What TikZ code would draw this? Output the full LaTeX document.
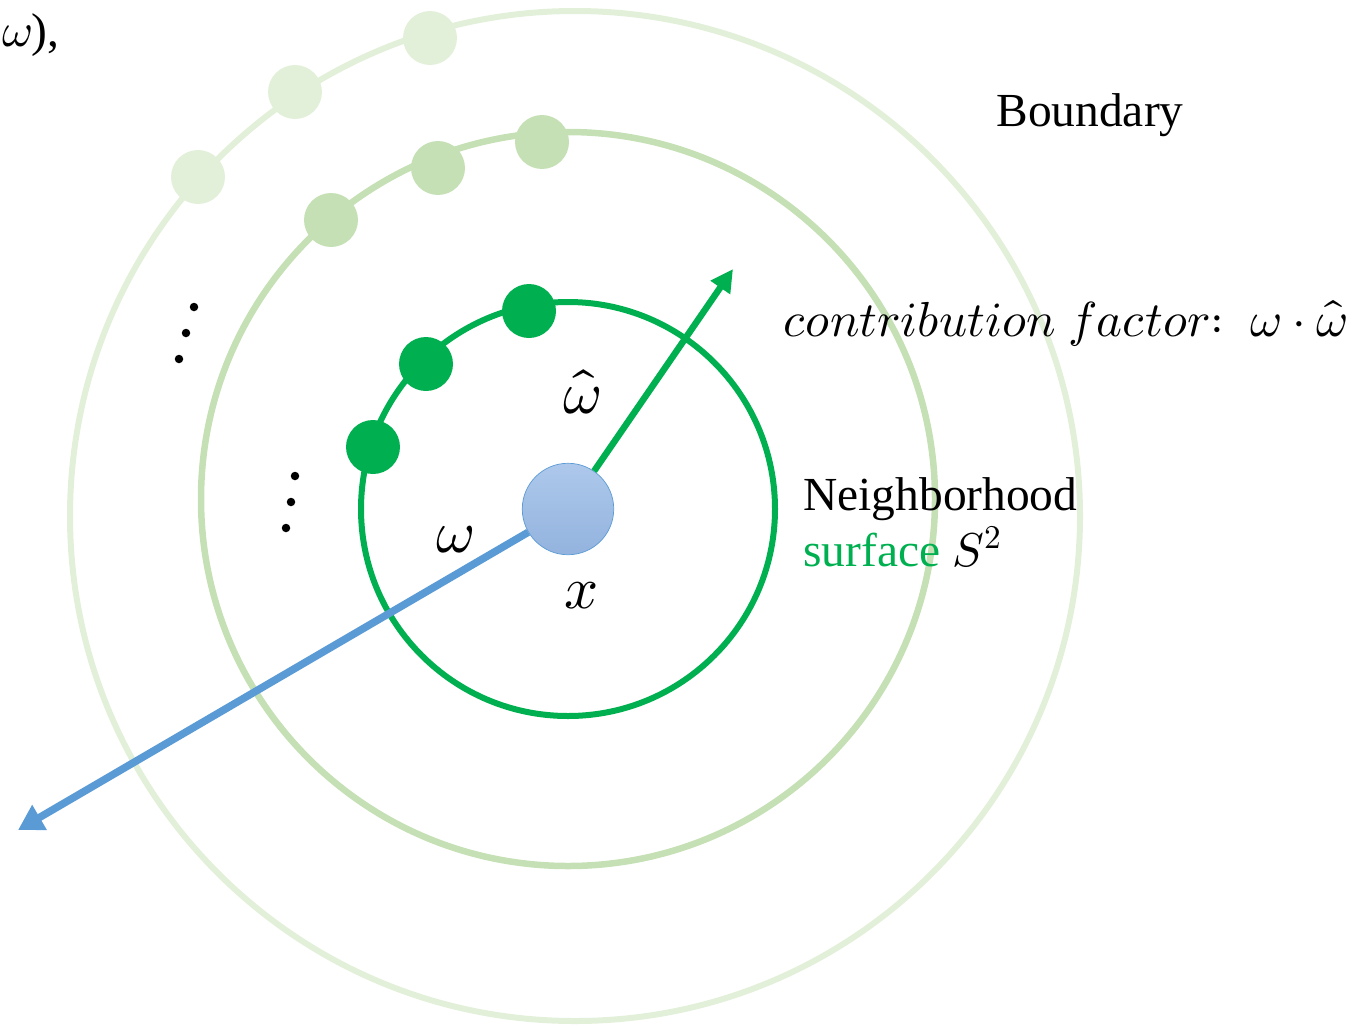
\documentclass[tikz,border=0pt]{standalone}
\usepackage{fontspec}
\usepackage{unicode-math}
\setmainfont{Liberation Serif}
\setmathfont{Latin Modern Math}
\usetikzlibrary{arrows.meta}
\definecolor{verde}{HTML}{00B050}
\definecolor{verdemedio}{HTML}{C5E0B4}
\definecolor{verdeclaro}{HTML}{E2F0D9}
\definecolor{azul}{HTML}{5B9BD5}
\definecolor{azularriba}{HTML}{ADC8EB}
\definecolor{azulabajo}{HTML}{93B3DE}
\tikzset{
    muestra/.style={circle, inner sep=0pt, minimum size=1.08cm},
    punto/.style={circle, fill=black, inner sep=0pt, minimum size=0.17cm},
    etiqueta/.style={font=\fontsize{27}{32}\selectfont, inner sep=0pt},
    simbolo/.style={font=\fontsize{34}{38}\selectfont, inner sep=0pt}
}
\begin{document}
\begin{tikzpicture}[x=0.02cm, y=-0.02cm]
        \useasboundingbox (0,0) rectangle (1355,1025);
        \clip (0,0) rectangle (1355,1025);

        % Frontera
        \draw[line width=0.12cm, verdeclaro] (575,516) circle (505);
        \node[muestra, fill=verdeclaro] (f1) at (198,177) {};
        \node[muestra, fill=verdeclaro] (f2) at (295,92) {};
        \node[muestra, fill=verdeclaro] (f3) at (430,38) {};

        % Capa intermedia
        \draw[line width=0.13cm, verdemedio] (568,499) circle (367);
        \node[muestra, fill=verdemedio] (m1) at (331,220) {};
        \node[muestra, fill=verdemedio] (m2) at (438,168) {};
        \node[muestra, fill=verdemedio] (m3) at (542,142) {};

        % Vecindario S^2
        \draw[line width=0.12cm, verde] (568,509) circle (207);
        \node[muestra, fill=verde] (v1) at (373,447) {};
        \node[muestra, fill=verde] (v2) at (426,364) {};
        \node[muestra, fill=verde] (v3) at (529,311) {};

        % Puntos suspensivos
        \node[punto] (p1) at (194,307) {};
        \node[punto] (p2) at (186,333) {};
        \node[punto] (p3) at (179,359) {};
        \node[punto] (p4) at (295,476) {};
        \node[punto] (p5) at (291,502) {};
        \node[punto] (p6) at (286,528) {};

        % Punto x y direcciones
        \node[circle, draw=azul, thin, top color=azularriba, bottom color=azulabajo,
              minimum size=1.83cm, inner sep=0pt] (x) at (568,509) {};
        \coordinate (dirw) at (18,830);
        \coordinate (dirwh) at (733,269);
        \draw[line width=0.15cm, azul, -{Triangle[length=0.5cm, width=0.55cm]}] (x) -- (dirw);
        \draw[line width=0.13cm, verde, -{Triangle[length=0.45cm, width=0.45cm]}] (x) -- (dirwh);

        % Textos
        \node[simbolo] (lwh) at (582,392) {$\widehat{\omega}$};
        \node[simbolo] (lw) at (455,540) {$\omega$};
        \node[simbolo] (lx) at (582,596) {$x$};
        \node[etiqueta] (frontera) at (1090,115) {Boundary};
        \node[etiqueta, anchor=base west] (vecindario) at (803,510) {Neighborhood};
        \node[etiqueta, anchor=base west] (superficie) at (803,566) {\textcolor{verde}{surface} $S^2$};
        \node[etiqueta, anchor=west, font=\fontsize{28}{32}\selectfont] (factor) at (783,323)
            {$contribution\ factor{:}\ \;\omega\cdot\widehat{\omega}$};
        \node[etiqueta, anchor=base east] (resto) at (60,46) {$\omega$),};

\end{tikzpicture}
\end{document}
